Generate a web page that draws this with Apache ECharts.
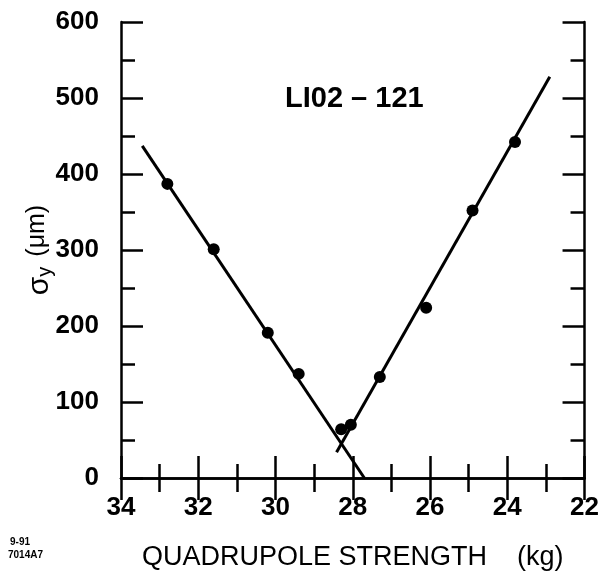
<!DOCTYPE html>
<html>
<head>
<meta charset="utf-8">
<script src="https://cdn.jsdelivr.net/npm/echarts@6/dist/echarts.min.js"></script>
<style>
  html, body { margin: 0; padding: 0; background: #fff; }
  #main { width: 602px; height: 576px; }
</style>
</head>
<body>
<div id="main"></div>
<script>
// measured points (quad strength kG, sigma_y um)
var pointsX = [32.8, 31.6, 30.2, 29.4, 28.3, 28.05, 27.3, 26.1, 24.9, 23.8];
var pointsY = [387, 301, 191, 137, 64, 70, 133, 224, 352, 442];

// fitted lines, end points
var fitLeftX = [33.45, 27.7];
var fitLeftY = [437, 0];
var fitRightX = [28.42, 22.9];
var fitRightY = [34, 528];

var xTicks = [22, 24, 26, 28, 30, 32, 34];
var yTicks = [0, 100, 200, 300, 400, 500, 600];

var Chart = {
    pairs: function (xs, ys) {
        var aList = [];
        for (var i = 0; i < xs.length; i++) {
            aList.push([xs[i], ys[i]]);
        }
        return aList;
    },
    frameAxis: function (isX, showLabel) {
        var aAxis = {
            type: 'value',
            axisLine: { show: true, lineStyle: { color: '#000', width: 2.5 } },
            axisTick: { show: true, inside: true, length: 22, lineStyle: { color: '#000', width: 2.5 } },
            minorTick: { show: true, splitNumber: 2, length: 14, lineStyle: { color: '#000', width: 2.5 } },
            splitLine: { show: false },
            axisLabel: {
                show: showLabel,
                color: '#000',
                fontFamily: 'Liberation Sans',
                fontWeight: 'bold',
                fontSize: 26
            }
        };
        if (isX) {
            aAxis.min = xTicks[0];
            aAxis.max = xTicks[xTicks.length - 1];
            aAxis.interval = 2;
            aAxis.inverse = true;
            aAxis.axisLabel.margin = 17;
        } else {
            aAxis.min = yTicks[0];
            aAxis.max = yTicks[yTicks.length - 1];
            aAxis.interval = 100;
            aAxis.axisLabel.margin = 22;
        }
        return aAxis;
    },
    Load: function () {
        var me = Chart;
        var aChart = echarts.init(document.getElementById('main'), null, { renderer: 'canvas' });

        var xBottom = me.frameAxis(true, true);
        xBottom.position = 'bottom';
        xBottom.name = 'QUADRUPOLE STRENGTH    (kg)';
        xBottom.nameLocation = 'middle';
        xBottom.nameGap = 66;
        xBottom.nameMoveOverlap = false;
        xBottom.nameTextStyle = { color: '#000', fontFamily: 'Liberation Sans', fontSize: 27 };
        var xTop = me.frameAxis(true, false);
        xTop.position = 'top';

        var yLeft = me.frameAxis(false, true);
        yLeft.position = 'left';
        yLeft.name = '{s|σ}{sub|y}   {u|(μm)}';
        yLeft.nameLocation = 'middle';
        yLeft.nameRotate = 90;
        yLeft.nameGap = 66;
        yLeft.nameMoveOverlap = false;
        yLeft.nameTextStyle = {
            color: '#000',
            fontFamily: 'Liberation Sans',
            rich: {
                s: { fontSize: 30, fontFamily: 'Liberation Sans', color: '#000', lineHeight: 30, verticalAlign: 'top' },
                sub: { fontSize: 20, fontFamily: 'Liberation Sans', color: '#000', lineHeight: 19, padding: [14, 0, 0, 0], verticalAlign: 'bottom' },
                u: { fontSize: 25, fontFamily: 'Liberation Sans', color: '#000', lineHeight: 30, verticalAlign: 'top' }
            }
        };
        var yRight = me.frameAxis(false, false);
        yRight.position = 'right';

        var option = {
            backgroundColor: '#fff',
            animation: false,
            grid: { left: 121, right: 9, top: 22, bottom: 97 },
            xAxis: [xBottom, xTop],
            yAxis: [yLeft, yRight],
            title: {
                text: 'LI02 – 121',
                left: 280,
                top: 79,
                textStyle: { color: '#000', fontFamily: 'Liberation Sans', fontWeight: 'bold', fontSize: 29 }
            },
            graphic: [
                { type: 'text', left: 10, top: 537, style: { text: '9-91', fill: '#000', font: 'bold 10px "Liberation Sans"' } },
                { type: 'text', left: 8, top: 550, style: { text: '7014A7', fill: '#000', font: 'bold 10px "Liberation Sans"' } }
            ],
            series: [
                {
                    name: 'fitLeft',
                    type: 'line',
                    data: me.pairs(fitLeftX, fitLeftY),
                    showSymbol: false,
                    lineStyle: { color: '#000', width: 3 }
                },
                {
                    name: 'fitRight',
                    type: 'line',
                    data: me.pairs(fitRightX, fitRightY),
                    showSymbol: false,
                    lineStyle: { color: '#000', width: 3 }
                },
                {
                    name: 'points',
                    type: 'scatter',
                    data: me.pairs(pointsX, pointsY),
                    symbol: 'circle',
                    symbolSize: 12,
                    itemStyle: { color: '#000', opacity: 1 }
                }
            ]
        };
        aChart.setOption(option);
    }
};

Chart.Load();
</script>
</body>
</html>
